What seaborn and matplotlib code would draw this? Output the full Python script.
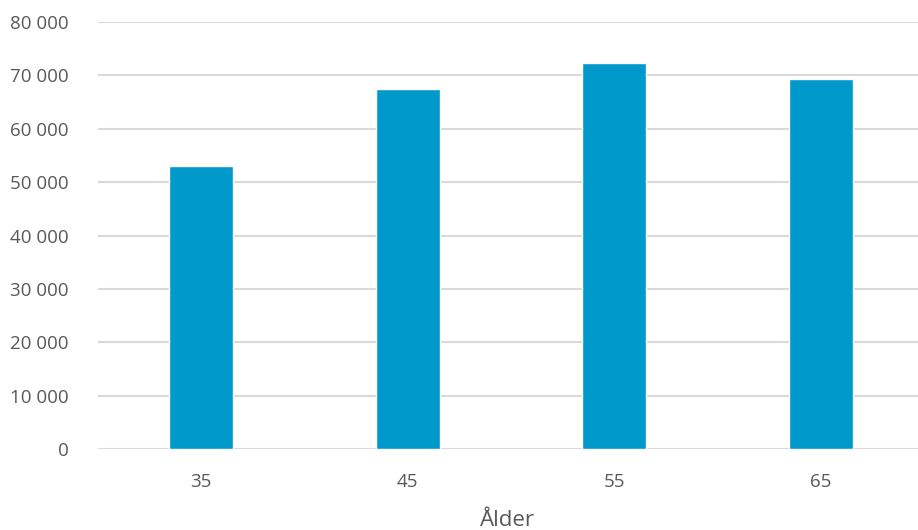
import matplotlib
matplotlib.use("Agg")
import matplotlib.pyplot as plt
import seaborn as sns
import pandas as pd
from matplotlib.ticker import FuncFormatter

# Average by age group
ages = ["35", "45", "55", "65"]
values = [53000, 67400, 72400, 69300]
y_ticks = [0, 10000, 20000, 30000, 40000, 50000, 60000, 70000, 80000]
x_label = "Ålder"

df = pd.DataFrame({"age": ages, "value": values})

sns.set_theme(style="white")
plt.rcParams["font.family"] = ["Open Sans", "DejaVu Sans"]

fig = plt.figure(figsize=(9.18, 5.30), dpi=100)
ax = fig.add_axes([0.1068, 0.1528, 0.893, 0.8057])

sns.barplot(data=df, x="age", y="value", color="#0099CC", width=0.31,
            saturation=1, ax=ax, zorder=3)

ax.set_ylim(0, 80000)
ax.set_yticks(y_ticks)
ax.yaxis.set_major_formatter(FuncFormatter(lambda v, p: f"{int(v):,}".replace(",", " ")))
ax.set_xlim(-0.5, 3.47)

ax.grid(axis="y", color="#D9D9D9", linewidth=1.5, zorder=0)
ax.grid(axis="x", visible=False)
for s in ax.spines.values():
    s.set_visible(False)

ax.tick_params(axis="y", length=0, pad=21, labelsize=13.5, labelcolor="#595959")
ax.tick_params(axis="x", length=0, pad=17, labelsize=13.5, labelcolor="#595959")
ax.set_ylabel("")
ax.set_xlabel(x_label, fontsize=16, color="#595959", labelpad=14)

fig.savefig("out.png", dpi=100, facecolor="white")
